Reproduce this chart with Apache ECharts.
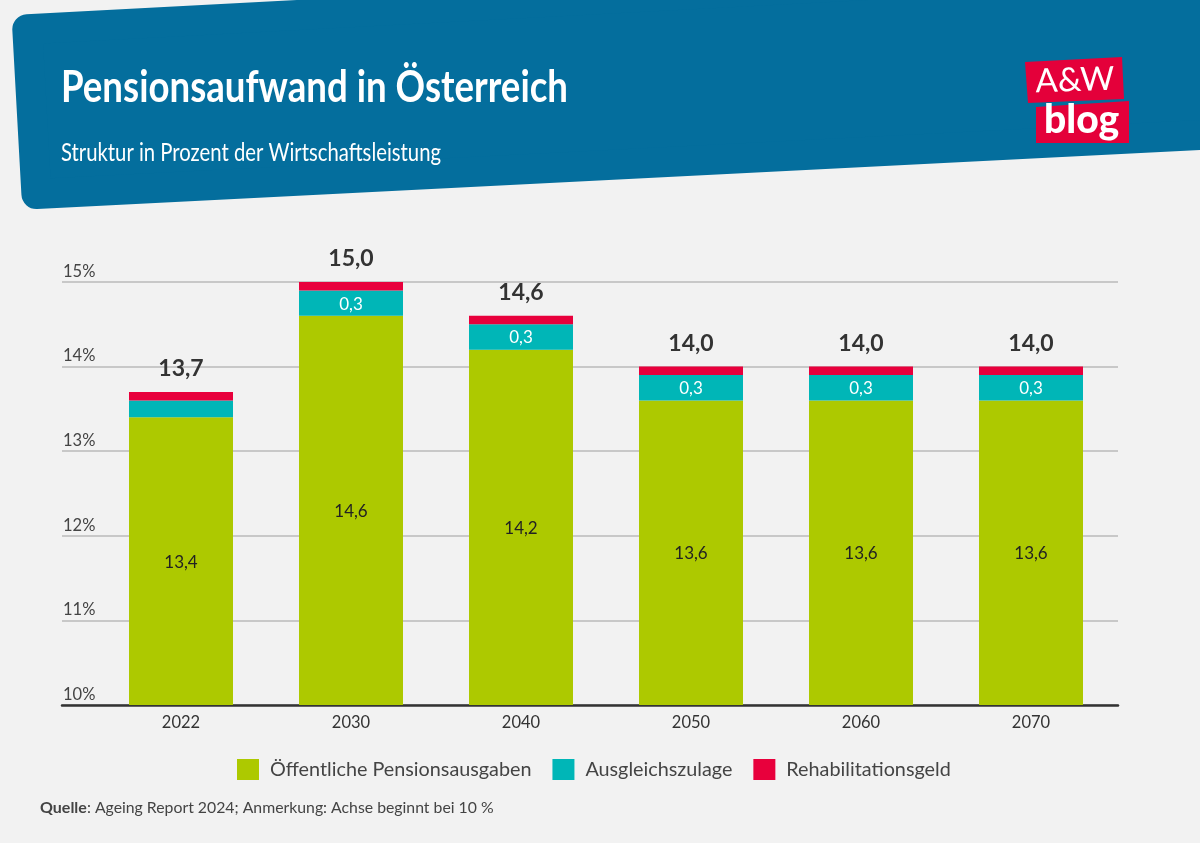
<!DOCTYPE html>
<html>
<head>
<meta charset="utf-8">
<style>
  html, body { margin: 0; padding: 0; background: #f2f2f2; }
  #chart { width: 1200px; height: 843px; }
</style>
</head>
<body>
<div id="chart"></div>
<script src="https://cdn.jsdelivr.net/npm/echarts@6/dist/echarts.min.js"></script>
<script>
var years = ['2022', '2030', '2040', '2050', '2060', '2070'];
var oeffentlich = [13.4, 14.6, 14.2, 13.6, 13.6, 13.6];
var ausgleich = [0.2, 0.3, 0.3, 0.3, 0.3, 0.3];
var reha = [0.1, 0.1, 0.1, 0.1, 0.1, 0.1];
var totals = [13.7, 15.0, 14.6, 14.0, 14.0, 14.0];

var FONT = 'Lato';
var comma = function (v) { return v.toFixed(1).replace('.', ','); };

// no narrow font is installed, so the header texts get squeezed to their width
var ctx = document.createElement('canvas').getContext('2d');
function squeeze(text, font, width) {
  ctx.font = font;
  return width / ctx.measureText(text).width;
}
var titleText = 'Pensionsaufwand in Österreich';
var titleFont = 'bold 44px ' + FONT;
var subText = 'Struktur in Prozent der Wirtschaftsleistung';
var subFont = '25px ' + FONT;

var chart = echarts.init(document.getElementById('chart'));
chart.setOption({
  backgroundColor: '#f2f2f2',
  animation: false,
  textStyle: { fontFamily: FONT },
  // grid 0 holds the bars, grid 1 is a bit wider and holds gridlines + baseline
  grid: [
    { left: 96, right: 84, top: 282, bottom: 138 },
    { left: 62, right: 82, top: 282, bottom: 138 }
  ],
  xAxis: [
    {
      type: 'category', gridIndex: 0, data: years,
      axisLine: { show: false }, axisTick: { show: false },
      axisLabel: { color: '#333', fontSize: 16.5, margin: 9 }
    },
    {
      type: 'category', gridIndex: 1, data: years,
      axisLine: { lineStyle: { color: '#333', width: 2.5 } },
      axisTick: { show: false }, axisLabel: { show: false }
    }
  ],
  yAxis: [
    {
      type: 'value', gridIndex: 0, min: 10, max: 15, interval: 1,
      axisLine: { show: false }, axisTick: { show: false },
      axisLabel: { show: false }, splitLine: { show: false }
    },
    {
      type: 'value', gridIndex: 1, min: 10, max: 15, interval: 1,
      axisLine: { show: false }, axisTick: { show: false },
      axisLabel: {
        inside: true, margin: 1, align: 'left', verticalAlign: 'bottom',
        color: '#444', fontSize: 16.5, padding: [0, 0, 2, 0],
        formatter: '{value}%'
      },
      splitLine: { lineStyle: { color: '#c8c8c8', width: 2 } }
    }
  ],
  legend: {
    left: 237, top: 759, padding: 0, itemWidth: 22, itemHeight: 21, itemGap: 21,
    icon: 'rect',
    textStyle: { color: '#444', fontSize: 19.8, fontFamily: FONT, padding: [0, 0, 0, 6] },
    data: ['Öffentliche Pensionsausgaben', 'Ausgleichszulage', 'Rehabilitationsgeld']
  },
  series: [
    {
      name: 'Öffentliche Pensionsausgaben', type: 'bar', stack: 'a', barWidth: 104,
      data: oeffentlich, itemStyle: { color: '#adc900' },
      label: {
        show: true, position: 'inside', offset: [0, 1], color: '#222', fontSize: 17,
        formatter: function (p) { return comma(p.value); }
      }
    },
    {
      name: 'Ausgleichszulage', type: 'bar', stack: 'a', barWidth: 104,
      data: ausgleich, itemStyle: { color: '#00b6b7' },
      label: {
        show: true, position: 'inside', offset: [0, 1], color: '#fff', fontSize: 17,
        formatter: function (p) { return p.value < 0.3 ? '' : comma(p.value); }
      }
    },
    {
      name: 'Rehabilitationsgeld', type: 'bar', stack: 'a', barWidth: 104,
      data: reha, itemStyle: { color: '#e8003c' },
      label: {
        show: true, position: 'top', distance: 12, color: '#333', fontSize: 23, fontWeight: 'bold',
        formatter: function (p) { return comma(totals[p.dataIndex]); }
      }
    }
  ],
  graphic: [
    // header band: thick round-joined stroke gives the rounded corners
    {
      type: 'polygon', z: -1,
      shape: { points: [[27.3, 29.2], [1240, -34.6], [1240, 133], [36.4, 194]] },
      style: { fill: '#046e9d', stroke: '#046e9d', lineWidth: 30, lineJoin: 'round' }
    },
    {
      type: 'text', x: 61, y: 66, scaleX: squeeze(titleText, titleFont, 507),
      style: { text: titleText, fill: '#fff', font: titleFont }
    },
    {
      type: 'text', x: 61, y: 140, scaleX: squeeze(subText, subFont, 380),
      style: { text: subText, fill: '#fff', font: subFont }
    },
    // logo
    {
      type: 'polygon',
      shape: { points: [[1025, 62], [1122, 57], [1124, 99], [1028, 103]] },
      style: { fill: '#e4003a' }
    },
    {
      type: 'polygon',
      shape: { points: [[1036, 107], [1129, 101], [1129, 143], [1036, 143]] },
      style: { fill: '#e4003a' }
    },
    {
      type: 'text', x: 1035, y: 65, rotation: 0.03,
      style: { text: 'A&W', fill: '#fff', font: '33px ' + FONT }
    },
    {
      type: 'text', x: 1044, y: 101,
      style: { text: 'blog', fill: '#fff', font: '900 39px ' + FONT }
    },
    // source line
    {
      type: 'text', left: 40, top: 800,
      style: {
        text: '{b|Quelle}{r|: Ageing Report 2024; Anmerkung: Achse beginnt bei 10 %}',
        rich: {
          b: { fontFamily: FONT, fontSize: 16, fontWeight: 'bold', fill: '#444', color: '#444' },
          r: { fontFamily: FONT, fontSize: 15.8, fill: '#444', color: '#444' }
        }
      }
    }
  ]
});
</script>
</body>
</html>
